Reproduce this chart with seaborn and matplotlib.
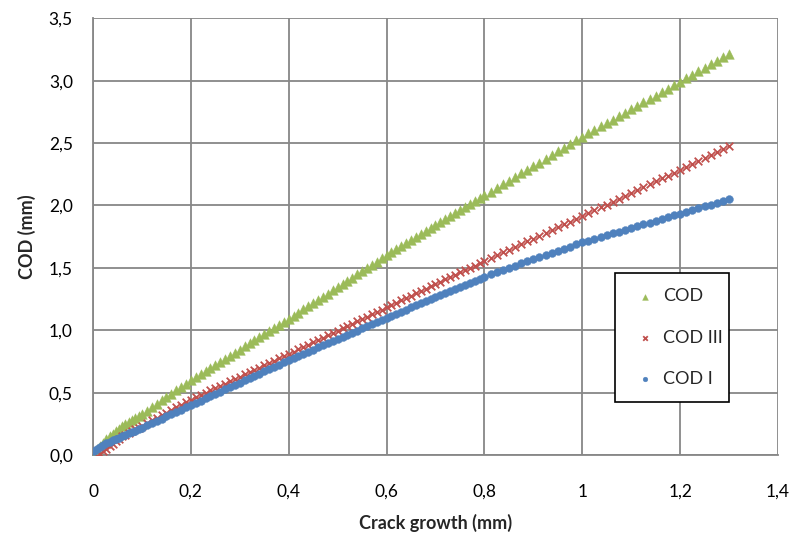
import matplotlib
matplotlib.use("Agg")
import matplotlib.pyplot as plt
from matplotlib.ticker import FuncFormatter, MultipleLocator
import seaborn as sns
import pandas as pd

# ---- data ----
crack_growth = [
    0.003, 0.009, 0.015, 0.021, 0.027, 0.034, 0.040, 0.047, 0.053, 0.060,
    0.066, 0.073, 0.080, 0.086, 0.093,
    0.10, 0.11, 0.12, 0.13, 0.14, 0.15, 0.16, 0.17, 0.18, 0.19, 0.20,
    0.21, 0.22, 0.23, 0.24, 0.25, 0.26, 0.27, 0.28, 0.29, 0.30,
    0.31, 0.32, 0.33, 0.34, 0.35, 0.36, 0.37, 0.38, 0.39, 0.40,
    0.41, 0.42, 0.43, 0.44, 0.45, 0.46, 0.47, 0.48, 0.49, 0.50,
    0.51, 0.52, 0.53, 0.54, 0.55, 0.56, 0.57, 0.58, 0.59, 0.60,
    0.61, 0.62, 0.63, 0.64, 0.65, 0.66, 0.67, 0.68, 0.69, 0.70,
    0.71, 0.72, 0.73, 0.74, 0.75, 0.76, 0.77, 0.78, 0.79, 0.80,
    0.8125, 0.825, 0.8375, 0.85, 0.8625, 0.875, 0.8875, 0.9,
    0.9125, 0.925, 0.9375, 0.95, 0.9625, 0.975, 0.9875, 1.0,
    1.0125, 1.025, 1.0375, 1.05, 1.0625, 1.075, 1.0875, 1.1,
    1.1125, 1.125, 1.1375, 1.15, 1.1625, 1.175, 1.1875, 1.2,
    1.2125, 1.225, 1.2375, 1.25, 1.2625, 1.275, 1.2875, 1.3,
]

cod = [
    0.020, 0.050, 0.075, 0.100, 0.125, 0.150, 0.170, 0.195, 0.210, 0.230,
    0.245, 0.263, 0.280, 0.295, 0.313,
    0.330, 0.357, 0.384, 0.411, 0.438, 0.465, 0.492, 0.519, 0.546, 0.573, 0.600,
    0.625, 0.649, 0.674, 0.698, 0.723, 0.747, 0.772, 0.796, 0.821, 0.845,
    0.870, 0.894, 0.919, 0.943, 0.968, 0.992, 1.017, 1.041, 1.066, 1.090,
    1.116, 1.141, 1.167, 1.192, 1.218, 1.243, 1.269, 1.294, 1.320, 1.345,
    1.371, 1.396, 1.422, 1.447, 1.473, 1.498, 1.524, 1.549, 1.575, 1.600,
    1.624, 1.648, 1.672, 1.696, 1.720, 1.744, 1.768, 1.792, 1.816, 1.840,
    1.864, 1.888, 1.912, 1.936, 1.960, 1.984, 2.008, 2.032, 2.056, 2.080,
    2.109, 2.139, 2.168, 2.198, 2.227, 2.256, 2.286, 2.315,
    2.344, 2.374, 2.403, 2.433, 2.462, 2.491, 2.521, 2.550,
    2.578, 2.605, 2.633, 2.660, 2.688, 2.715, 2.743, 2.770,
    2.798, 2.825, 2.853, 2.880, 2.908, 2.935, 2.963, 2.990,
    3.018, 3.046, 3.074, 3.103, 3.131, 3.159, 3.187, 3.215,
]

cod_iii = [
    -0.030, -0.010, 0.010, 0.030, 0.050, 0.070, 0.090, 0.110, 0.130, 0.150,
    0.163, 0.177, 0.192, 0.205, 0.220,
    0.235, 0.256, 0.277, 0.298, 0.319, 0.340, 0.361, 0.382, 0.403, 0.424, 0.445,
    0.463, 0.482, 0.500, 0.518, 0.537, 0.555, 0.573, 0.591, 0.610, 0.628,
    0.646, 0.664, 0.683, 0.701, 0.719, 0.737, 0.755, 0.774, 0.792, 0.810,
    0.829, 0.848, 0.866, 0.885, 0.904, 0.923, 0.941, 0.960, 0.979, 0.998,
    1.016, 1.035, 1.054, 1.073, 1.091, 1.110, 1.129, 1.148, 1.166, 1.185,
    1.204, 1.222, 1.241, 1.259, 1.278, 1.296, 1.315, 1.333, 1.352, 1.370,
    1.389, 1.407, 1.426, 1.444, 1.463, 1.481, 1.500, 1.518, 1.537, 1.555,
    1.578, 1.600, 1.623, 1.645, 1.668, 1.690, 1.713, 1.735,
    1.758, 1.780, 1.803, 1.825, 1.848, 1.870, 1.893, 1.915,
    1.938, 1.961, 1.984, 2.007, 2.031, 2.054, 2.077, 2.100,
    2.123, 2.146, 2.169, 2.192, 2.216, 2.239, 2.262, 2.285,
    2.309, 2.333, 2.356, 2.380, 2.404, 2.428, 2.451, 2.475,
]

cod_i = [
    0.030, 0.052, 0.068, 0.082, 0.094, 0.107, 0.118, 0.130, 0.139, 0.150,
    0.160, 0.173, 0.185, 0.196, 0.208,
    0.220, 0.238, 0.256, 0.274, 0.292, 0.310, 0.328, 0.346, 0.364, 0.382, 0.400,
    0.418, 0.436, 0.454, 0.472, 0.490, 0.508, 0.526, 0.544, 0.562, 0.580,
    0.598, 0.616, 0.634, 0.652, 0.670, 0.688, 0.706, 0.724, 0.742, 0.760,
    0.777, 0.794, 0.811, 0.828, 0.845, 0.862, 0.879, 0.896, 0.913, 0.930,
    0.947, 0.964, 0.981, 0.998, 1.015, 1.032, 1.049, 1.066, 1.083, 1.100,
    1.117, 1.133, 1.150, 1.166, 1.183, 1.199, 1.216, 1.232, 1.249, 1.265,
    1.282, 1.298, 1.315, 1.331, 1.348, 1.364, 1.381, 1.397, 1.414, 1.430,
    1.448, 1.465, 1.483, 1.500, 1.518, 1.535, 1.553, 1.570,
    1.587, 1.604, 1.621, 1.638, 1.654, 1.671, 1.688, 1.705,
    1.719, 1.734, 1.748, 1.763, 1.777, 1.791, 1.806, 1.820,
    1.834, 1.849, 1.863, 1.878, 1.892, 1.906, 1.921, 1.935,
    1.949, 1.964, 1.978, 1.993, 2.007, 2.021, 2.036, 2.050,
]

series_names = ["COD", "COD III", "COD I"]
x_label = "Crack growth (mm)"
y_label = "COD (mm)"

# ---- styling ----
sns.set_theme(style="white")
plt.rcParams["font.family"] = ["Lato", "DejaVu Sans"]

GREEN = "#9BBB59"
RED = "#C0504D"
BLUE = "#4F81BD"
GRID = "#878787"

fig = plt.figure(figsize=(7.93, 5.36), dpi=100)
ax = fig.add_axes([0.1173, 0.151, 0.8637, 0.815])

df = pd.DataFrame({"x": crack_growth, "COD": cod, "COD III": cod_iii, "COD I": cod_i})

sns.scatterplot(data=df, x="x", y="COD", marker="^", s=48, color=GREEN,
                edgecolor=GREEN, linewidth=0.3, ax=ax, label=series_names[0], zorder=3)
sns.scatterplot(data=df, x="x", y="COD III", marker="x", s=30, color=RED,
                linewidth=1.3, ax=ax, label=series_names[1], zorder=4)
sns.scatterplot(data=df, x="x", y="COD I", marker="o", s=32, color=BLUE,
                edgecolor=BLUE, linewidth=0.3, ax=ax, label=series_names[2], zorder=5)

ax.set_xlim(0, 1.4)
ax.set_ylim(0, 3.5)
ax.xaxis.set_major_locator(MultipleLocator(0.2))
ax.yaxis.set_major_locator(MultipleLocator(0.5))

def fmt_x(v, pos):
    s = f"{v:.1f}".rstrip("0").rstrip(".")
    if s in ("-0",):
        s = "0"
    return s.replace(".", ",")

def fmt_y(v, pos):
    return f"{v:.1f}".replace(".", ",")

ax.xaxis.set_major_formatter(FuncFormatter(fmt_x))
ax.yaxis.set_major_formatter(FuncFormatter(fmt_y))

ax.grid(True, color=GRID, linewidth=1.3)
ax.set_axisbelow(True)
for side in ["top", "right"]:
    ax.spines[side].set_visible(False)
for side in ["left", "bottom"]:
    ax.spines[side].set_color(GRID)
    ax.spines[side].set_linewidth(1.3)

ax.tick_params(axis="both", which="major", direction="out", length=4.5,
               width=1.2, color=GRID, labelsize=12.5, labelcolor="black")
ax.tick_params(axis="x", pad=16)
ax.tick_params(axis="y", pad=10)
ax.set_xlabel(x_label, fontsize=13, fontweight="bold", labelpad=10)
ax.set_ylabel(y_label, fontsize=13, fontweight="bold", labelpad=9)

leg = ax.legend(loc="lower left", bbox_to_anchor=(0.762, 0.121, 0.166, 0.297),
                mode="expand", frameon=True, fancybox=False, fontsize=13,
                labelspacing=1.4, handletextpad=0.2, borderpad=0.85,
                markerscale=0.6, handlelength=1.6, borderaxespad=0)
leg.get_frame().set_edgecolor("black")
leg.get_frame().set_linewidth(1.2)
leg.get_frame().set_facecolor("white")
leg.get_frame().set_alpha(1.0)
leg.set_zorder(10)

fig.savefig("out.png", dpi=100)
